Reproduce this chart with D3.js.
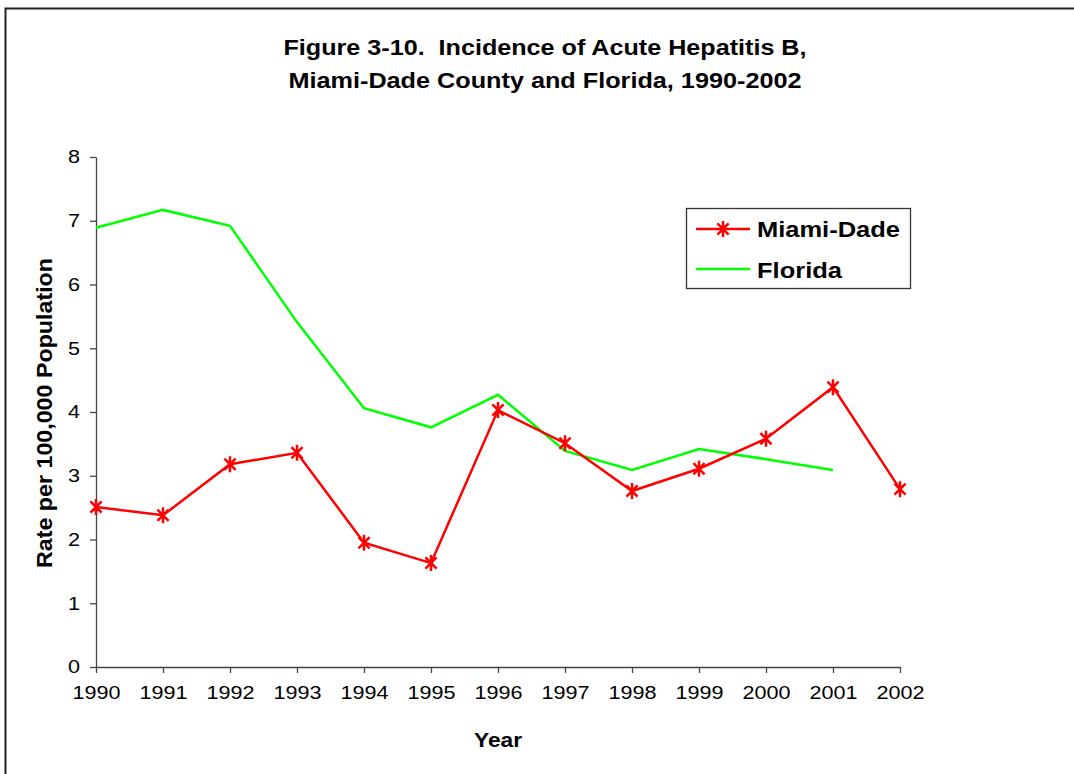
<!DOCTYPE html>
<html>
<head>
<meta charset="utf-8">
<script src="https://cdn.jsdelivr.net/npm/d3@7"></script>
<style>
  body { margin: 0; background: #fff; }
  svg { display: block; font-family: "Liberation Sans", Arial, sans-serif; }
</style>
</head>
<body>
<div id="chart"></div>
<script>
// Data
const years = [1990, 1991, 1992, 1993, 1994, 1995, 1996, 1997, 1998, 1999, 2000, 2001, 2002];
const miamiDade = [2.51, 2.38, 3.18, 3.36, 1.95, 1.63, 4.03, 3.51, 2.76, 3.11, 3.58, 4.39, 2.79];
const florida = [6.89, 7.17, 6.92, 5.41, 4.06, 3.76, 4.27, 3.39, 3.09, 3.42, 3.26, 3.09, null];
const yTicks = [0, 1, 2, 3, 4, 5, 6, 7, 8];

const W = 1074, H = 774;
const M = { top: 157, right: 174, bottom: 107, left: 96 };
const innerW = W - M.left - M.right;
const innerH = H - M.top - M.bottom;

const svg = d3.select("#chart").append("svg")
  .attr("width", W)
  .attr("height", H);

// Frame (left and top edges only)
svg.append("path")
  .attr("d", `M5.5,${H} V8.5 H${W}`)
  .attr("fill", "none")
  .attr("stroke", "#222")
  .attr("stroke-width", 2);

// Title (the original type is a bit wide, so stretch to its measured width)
const title = svg.append("text")
  .attr("text-anchor", "middle")
  .attr("font-weight", "bold")
  .attr("font-size", 22)
  .style("white-space", "pre");
title.append("tspan").attr("x", 545).attr("y", 55)
  .attr("textLength", 523).attr("lengthAdjust", "spacingAndGlyphs")
  .text("Figure 3-10.  Incidence of Acute Hepatitis B,");
title.append("tspan").attr("x", 545).attr("y", 88)
  .attr("textLength", 513).attr("lengthAdjust", "spacingAndGlyphs")
  .text("Miami-Dade County and Florida, 1990-2002");

const g = svg.append("g")
  .attr("transform", `translate(${M.left}, ${M.top})`);

const x = d3.scalePoint()
  .domain(years)
  .range([0, innerW]);

const y = d3.scaleLinear()
  .domain([0, 8])
  .range([innerH, 0]);

// Axes
const xAxis = d3.axisBottom(x)
  .tickSize(6)
  .tickPadding(13)
  .tickSizeOuter(0);

const yAxis = d3.axisLeft(y)
  .tickValues(yTicks)
  .tickSize(6)
  .tickPadding(10)
  .tickSizeOuter(0);

const gx = g.append("g")
  .attr("transform", `translate(0, ${innerH})`)
  .call(xAxis);

const gy = g.append("g")
  .call(yAxis);

[gx, gy].forEach(a => {
  a.selectAll("path, line").attr("stroke", "#444").attr("stroke-width", 1.3);
  a.selectAll("text")
    .attr("font-size", 18)
    .attr("fill", "#000")
    .attr("font-family", "'Liberation Sans', Arial, sans-serif");
});

// wide digits, as in the original
const sx = 1.2;
gx.selectAll("text").attr("transform", `scale(${sx},1)`);
gy.selectAll("text")
  .attr("x", -16 / sx)
  .attr("transform", `scale(${sx},1)`);

// Axis titles
svg.append("text")
  .attr("x", 498)
  .attr("y", 747)
  .attr("text-anchor", "middle")
  .attr("font-weight", "bold")
  .attr("font-size", 21)
  .attr("textLength", 48)
  .attr("lengthAdjust", "spacingAndGlyphs")
  .text("Year");

svg.append("text")
  .attr("transform", `translate(52, 413) rotate(-90)`)
  .attr("text-anchor", "middle")
  .attr("font-weight", "bold")
  .attr("font-size", 22)
  .attr("textLength", 310)
  .attr("lengthAdjust", "spacingAndGlyphs")
  .text("Rate per 100,000 Population");

// Lines
const line = d3.line()
  .defined(d => d.v != null)
  .x(d => x(d.year))
  .y(d => y(d.v));

const flData = years.map((yr, i) => ({ year: yr, v: florida[i] }));
const mdData = years.map((yr, i) => ({ year: yr, v: miamiDade[i] }));

g.append("path")
  .datum(flData)
  .attr("fill", "none")
  .attr("stroke", "#00ff00")
  .attr("stroke-width", 2.5)
  .attr("d", line);

g.append("path")
  .datum(mdData)
  .attr("fill", "none")
  .attr("stroke", "#ff0000")
  .attr("stroke-width", 2.5)
  .attr("d", line);

// Asterisk markers
const star = (s) => {
  const d = s * 0.7;
  return `M0,${-s} V${s} M${-d},${-d} L${d},${d} M${-d},${d} L${d},${-d}`;
};

g.selectAll("path.marker")
  .data(mdData)
  .join("path")
  .attr("class", "marker")
  .attr("transform", d => `translate(${x(d.year)}, ${y(d.v)})`)
  .attr("d", star(8))
  .attr("fill", "none")
  .attr("stroke", "#ff0000")
  .attr("stroke-width", 2.5);

// Legend
const lg = svg.append("g");
lg.append("rect")
  .attr("x", 686.5)
  .attr("y", 208.5)
  .attr("width", 224)
  .attr("height", 80)
  .attr("fill", "#fff")
  .attr("stroke", "#333")
  .attr("stroke-width", 1.3);

lg.append("line")
  .attr("x1", 696).attr("x2", 750)
  .attr("y1", 229).attr("y2", 229)
  .attr("stroke", "#ff0000").attr("stroke-width", 2.5);
lg.append("path")
  .attr("transform", "translate(723, 229)")
  .attr("d", star(8))
  .attr("fill", "none")
  .attr("stroke", "#ff0000")
  .attr("stroke-width", 2.5);
lg.append("text")
  .attr("x", 757).attr("y", 237)
  .attr("font-weight", "bold").attr("font-size", 22)
  .attr("textLength", 143).attr("lengthAdjust", "spacingAndGlyphs")
  .text("Miami-Dade");

lg.append("line")
  .attr("x1", 696).attr("x2", 750)
  .attr("y1", 269).attr("y2", 269)
  .attr("stroke", "#00ff00").attr("stroke-width", 2.5);
lg.append("text")
  .attr("x", 757).attr("y", 278)
  .attr("font-weight", "bold").attr("font-size", 22)
  .attr("textLength", 85).attr("lengthAdjust", "spacingAndGlyphs")
  .text("Florida");
</script>
</body>
</html>
